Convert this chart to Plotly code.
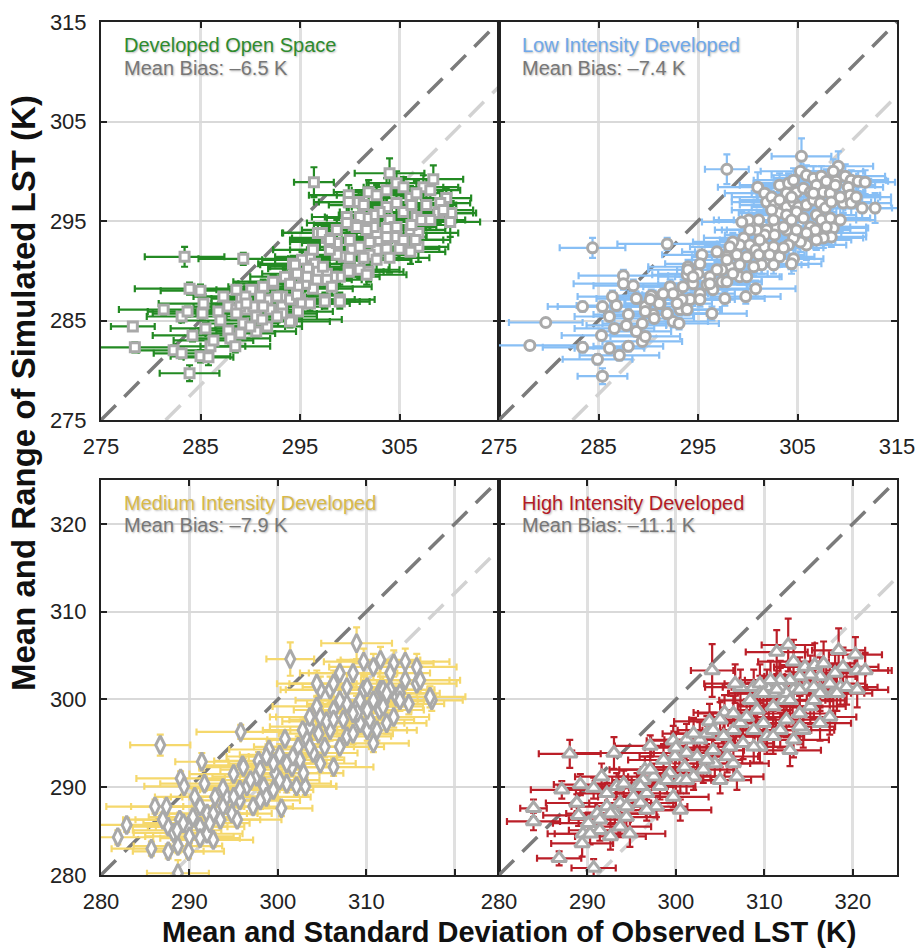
import plotly.graph_objects as go

W, H = 919, 948

# ---------------- DATA ----------------
titles = ["Developed Open Space", "Low Intensity Developed",
          "Medium Intensity Developed", "High Intensity Developed"]
mean_bias = [-6.5, -7.4, -7.9, -11.1]
bias_labels = ["Mean Bias: \u20136.5 K", "Mean Bias: \u20137.4 K",
               "Mean Bias: \u20137.9 K", "Mean Bias: \u201311.1 K"]
top_ticks = [275, 285, 295, 305, 315]
bot_ticks = [280, 290, 300, 310, 320]

# Developed Open Space: observed mean, observed sd, simulated mean, simulated half-range
dos_x = [283.4, 289.3, 283.9, 285.0, 281.3, 283.1, 283.7, 278.2, 278.4, 283.9, 282.3, 283.1, 285.0, 285.8, 284.2,
         285.3, 285.2, 285.5, 286.0, 286.3, 286.8, 287.0, 287.8, 288.0, 288.5, 287.3, 287.8, 288.6, 289.1, 289.6,
         290.1, 290.6, 291.0, 291.7, 292.0, 292.3, 293.2, 293.5, 294.2, 294.3, 295.0, 295.3, 296.0, 296.8, 297.5,
         299.0, 299.9, 300.2, 296.4, 304.0, 304.7, 308.4, 299.9, 299.9, 301.9, 302.7, 307.4, 308.1, 309.7, 310.2,
         310.1, 308.9, 306.7, 307.2, 305.4, 306.1, 304.7, 303.7, 303.0, 302.4, 301.7, 301.0, 300.4, 299.7, 300.9,
         301.4, 304.0, 304.5, 303.7, 306.1, 306.9, 306.2, 306.9, 306.1, 305.0, 303.7, 304.0, 302.7, 302.0, 301.4,
         302.0, 303.0, 303.7, 302.7, 304.7, 301.0, 301.9, 301.7, 299.9, 299.0, 298.3, 297.7, 299.4, 300.0, 298.7,
         298.0, 298.7, 298.0, 297.7, 297.2, 296.0, 295.2, 294.5, 296.5, 296.8, 295.8, 297.7, 298.2, 296.7, 296.3,
         295.5, 294.8, 292.3, 291.7, 291.3, 292.7, 293.2, 294.0, 294.7, 295.2, 296.0, 294.8, 294.0, 293.2, 291.2,
         290.3, 289.5, 289.0, 288.6, 289.3, 288.6, 289.0, 290.6, 297.5, 299.0,
         306.7, 305.4, 303.7, 306.2, 307.7, 309.1, 308.1, 309.4, 305.4, 306.6, 304.7, 302.4, 301.7, 300.7, 299.7,
         298.7, 298.0, 300.0, 301.0, 302.7, 296.3, 295.7, 297.3, 294.7, 294.0, 291.3, 291.0, 289.6, 292.7, 290.0]
dos_sx = [4.0, 4.5, 5.5, 4.0, 4.5, 3.5, 4.0, 2.2, 4.0, 3.0, 3.5, 2.8, 3.0, 2.5, 4.0,
          4.5, 5.0, 3.5, 3.5, 4.0, 3.5, 4.0, 3.0, 4.0, 3.5, 3.0, 3.5, 4.0, 3.0, 3.5,
          3.5, 3.0, 4.0, 3.5, 3.0, 3.5, 4.0, 3.5, 5.0, 3.5, 4.0, 3.5, 4.0, 3.5, 3.0,
          3.5, 4.0, 4.5, 2.0, 3.5, 3.0, 3.0, 4.0, 3.5, 3.5, 4.0, 3.5, 3.0, 2.5, 2.5,
          3.0, 3.5, 4.0, 3.5, 4.0, 3.5, 4.0, 3.5, 4.0, 3.5, 4.0, 3.5, 4.0, 3.5, 4.0,
          3.5, 4.0, 3.5, 4.0, 3.5, 4.0, 3.5, 3.0, 3.5, 4.0, 3.5, 4.0, 3.5, 4.0, 3.5,
          4.0, 3.5, 4.0, 3.5, 3.0, 4.0, 3.5, 4.0, 3.5, 4.0, 3.5, 4.0, 3.5, 4.0, 3.5,
          4.0, 3.5, 4.0, 3.5, 4.0, 3.5, 4.0, 3.5, 4.0, 3.5, 4.0, 3.5, 4.0, 3.5, 4.0,
          3.5, 4.0, 4.0, 3.5, 4.0, 3.5, 4.0, 3.5, 4.0, 3.5, 4.0, 3.5, 4.0, 3.5, 4.0,
          3.5, 4.0, 3.5, 4.0, 3.5, 4.0, 3.5, 4.0, 3.5, 3.0,
          3.5, 4.0, 3.5, 4.0, 3.0, 3.0, 3.5, 3.0, 4.0, 3.5, 4.0, 3.5, 4.0, 3.5, 4.0,
          3.5, 4.0, 3.5, 4.0, 3.5, 4.0, 3.5, 4.0, 3.5, 4.0, 3.5, 4.0, 3.5, 4.0, 3.5]
dos_y = [291.4, 291.2, 288.2, 288.0, 286.1, 285.4, 285.9, 284.4, 282.3, 279.7, 282.0, 281.7, 281.4, 281.3, 283.5,
         286.7, 285.7, 284.2, 282.4, 283.0, 285.9, 285.0, 284.0, 283.2, 282.4, 287.4, 286.4, 286.1, 287.2, 286.1,
         288.1, 285.4, 287.1, 284.4, 286.1, 288.7, 287.4, 289.4, 285.1, 290.7, 287.1, 288.7, 290.4, 293.8, 287.1,
         287.1, 290.1, 292.1, 298.9, 299.8, 298.8, 299.2, 297.6, 296.9, 297.9, 297.6, 298.4, 298.1, 297.3, 295.8,
         294.9, 295.8, 295.4, 295.1, 295.9, 297.3, 296.8, 296.4, 295.9, 295.6, 295.3, 295.4, 294.6, 295.4, 296.9,
         296.6, 295.1, 294.4, 294.3, 294.1, 293.8, 294.6, 292.4, 291.9, 292.2, 292.2, 291.3, 292.1, 291.6, 291.3,
         292.9, 293.1, 293.4, 293.8, 293.4, 290.1, 289.9, 289.6, 289.9, 289.4, 289.4, 289.7, 291.4, 291.3, 291.6,
         292.1, 292.8, 292.9, 293.3, 293.8, 291.4, 291.1, 290.6, 290.7, 289.9, 290.2, 289.1, 288.4, 289.1, 288.2,
         288.7, 288.4, 288.9, 287.1, 286.4, 287.4, 286.4, 287.1, 287.6, 286.7, 286.7, 285.9, 284.9, 285.7, 285.1,
         286.4, 287.4, 286.4, 288.1, 284.7, 285.7, 283.7, 283.9, 286.9, 286.9,
         297.8, 298.4, 298.1, 296.6, 296.6, 296.8, 295.1, 296.1, 293.1, 293.1, 294.4, 294.4, 294.1, 294.4, 294.8,
         294.1, 293.1, 293.1, 292.4, 291.1, 292.1, 289.4, 290.4, 289.7, 288.7, 288.4, 287.4, 286.7, 285.4, 284.4]
dos_ry = [1.0, 0.6, 0.6, 0.6, 0.5, 0.6, 0.5, 0.4, 0.5, 0.8, 0.5, 0.5, 0.6, 0.8, 0.6,
          0.6, 0.5, 0.6, 0.6, 0.5, 0.6, 0.5, 0.6, 0.5, 0.6, 0.6, 0.7, 0.6, 0.7, 0.6,
          0.7, 0.6, 0.7, 0.6, 0.7, 0.8, 0.7, 0.8, 0.6, 0.8, 0.7, 0.8, 0.9, 1.0, 0.7,
          0.7, 0.9, 1.0, 1.5, 1.5, 1.2, 1.4, 1.0, 1.0, 1.2, 1.0, 1.2, 1.0, 1.0, 1.2,
          1.5, 1.0, 1.0, 1.2, 1.0, 1.2, 1.0, 1.1, 1.0, 0.9, 1.0, 1.0, 0.9, 1.0, 1.0,
          1.1, 1.0, 1.2, 1.0, 1.5, 1.2, 1.0, 1.5, 1.2, 1.0, 1.0, 1.5, 0.9, 1.0, 1.0,
          1.0, 1.0, 1.1, 1.0, 1.0, 0.9, 1.0, 1.0, 0.9, 0.8, 0.8, 0.9, 0.9, 1.0, 0.9,
          0.9, 1.0, 1.0, 1.0, 1.0, 0.8, 0.8, 0.8, 0.9, 0.8, 0.8, 0.8, 0.9, 0.8, 0.8,
          0.7, 0.8, 0.7, 0.7, 0.6, 0.7, 0.7, 0.7, 0.7, 0.8, 0.7, 0.6, 0.6, 0.6, 0.6,
          0.6, 0.7, 0.6, 0.7, 0.6, 0.6, 0.6, 0.6, 0.7, 0.7,
          1.2, 1.0, 1.2, 1.0, 1.0, 1.2, 1.0, 1.0, 1.5, 1.2, 1.0, 1.0, 1.0, 1.0, 1.0,
          1.0, 1.0, 1.0, 0.9, 1.2, 0.9, 0.8, 0.8, 0.8, 0.7, 0.7, 0.7, 0.6, 0.6, 0.6]

# Low Intensity Developed
lid_x = [297.9, 305.4, 309.1, 308.6, 301.0, 291.9, 305.3, 305.9, 306.6, 307.4, 307.9, 308.9, 309.8, 310.4, 311.1,
         311.8, 303.2, 304.1, 304.6, 303.9, 304.9, 305.6, 306.3, 306.9, 307.6, 308.3, 308.8, 310.1, 310.3, 301.7,
         301.9, 302.4, 302.7, 303.2, 303.9, 304.6, 305.1, 305.9, 306.6, 307.3, 307.8, 308.4, 309.6, 310.4, 311.5,
         312.8, 303.1, 303.9, 304.9, 305.6, 306.9, 307.4, 308.3, 308.6, 307.9, 308.4, 307.6, 306.9, 305.9, 305.3,
         304.6, 304.1, 303.9, 302.9, 301.9, 302.7, 301.7, 300.9, 301.1, 300.1, 299.4, 300.2, 299.6, 300.2, 300.8,
         299.2, 298.5, 298.2, 298.9, 299.9, 301.1, 301.7, 302.6, 303.2, 304.6, 304.4, 302.6, 301.4, 300.6, 299.2,
         298.2, 297.4, 296.9, 295.4, 295.2, 294.0, 293.9, 295.0, 296.2, 295.9, 296.5, 297.4, 297.9, 299.2, 299.9,
         300.8, 299.8, 297.7, 296.4, 292.2, 292.9, 293.2, 291.2, 290.5, 289.7, 290.5, 292.5, 294.2, 295.2, 284.4,
         287.5, 287.5, 288.5, 286.4, 288.8, 290.3, 283.4, 285.4, 286.8, 286.1, 286.6, 288.0, 287.8, 288.8, 289.4,
         289.7, 290.6, 291.1, 291.9, 279.7, 278.1, 283.4, 284.9, 285.4, 286.1, 287.1, 288.0, 289.4, 289.7, 285.3,
         292.5, 293.4, 293.9, 293.1, 294.5, 294.0, 295.2, 296.2, 298.5, 298.2, 297.9,
         302.4, 304.4, 306.3, 306.8, 307.9, 309.3, 309.3, 310.9, 306.6, 304.4, 302.6, 303.6, 304.9, 305.9, 301.2,
         302.2, 303.6, 297.9, 296.9, 294.5, 293.5, 291.5, 290.2, 292.9, 291.9]
lid_sx = [2.2, 3.0, 3.5, 3.0, 4.0, 5.0, 4.0, 3.5, 4.0, 3.5, 4.0, 3.5, 4.0, 3.5, 3.0,
          3.0, 4.0, 3.5, 4.0, 3.5, 4.0, 3.5, 4.0, 3.5, 4.0, 3.5, 4.0, 3.5, 3.0, 4.0,
          3.5, 4.0, 3.5, 4.0, 3.5, 4.0, 3.5, 4.0, 3.5, 4.0, 3.5, 4.0, 3.5, 4.0, 3.0,
          3.0, 4.0, 3.5, 4.0, 3.5, 4.0, 3.5, 4.0, 3.5, 4.0, 3.5, 4.0, 3.5, 4.0, 3.5,
          4.0, 3.5, 4.0, 3.5, 4.0, 3.5, 4.0, 3.5, 4.0, 3.5, 4.0, 3.5, 4.0, 3.5, 4.0,
          3.5, 4.0, 3.5, 4.0, 3.5, 4.0, 3.5, 4.0, 3.5, 3.0, 3.0, 3.5, 4.0, 3.5, 4.0,
          3.5, 4.0, 3.5, 4.0, 3.5, 4.0, 3.5, 4.0, 3.5, 4.0, 3.5, 4.0, 3.5, 4.0, 3.5,
          4.0, 3.5, 4.0, 3.5, 4.0, 3.5, 4.0, 3.5, 4.0, 3.5, 4.0, 3.5, 4.0, 3.5, 3.3,
          4.5, 5.0, 4.0, 3.5, 4.0, 3.5, 3.5, 4.5, 4.0, 3.5, 4.0, 3.5, 4.0, 3.5, 4.0,
          3.5, 4.0, 3.5, 4.0, 3.7, 5.5, 4.0, 3.5, 2.5, 3.5, 4.0, 3.5, 4.0, 3.5, 4.0,
          3.5, 4.0, 3.5, 4.0, 3.5, 4.0, 3.5, 4.0, 3.5, 4.0, 3.5,
          4.0, 3.5, 4.0, 3.5, 4.0, 3.5, 4.0, 3.5, 4.0, 3.5, 4.0, 3.5, 4.0, 3.5, 4.0,
          3.5, 4.0, 3.5, 4.0, 3.5, 4.0, 3.5, 4.0, 3.5, 4.0]
lid_y = [300.2, 301.5, 300.5, 300.0, 298.4, 292.7, 300.0, 299.6, 299.3, 299.5, 299.0, 299.0, 299.5, 299.1, 299.0,
         298.9, 298.6, 298.8, 299.1, 297.8, 297.9, 298.3, 297.9, 298.6, 297.9, 297.8, 298.6, 298.4, 297.6, 297.8,
         296.9, 297.4, 296.6, 297.1, 296.4, 296.9, 296.4, 296.6, 297.1, 296.8, 296.3, 296.9, 296.8, 296.8, 296.3,
         296.3, 295.8, 295.6, 295.9, 295.3, 295.6, 295.1, 295.3, 294.3, 293.8, 293.4, 293.3, 293.1, 292.6, 292.9,
         293.3, 292.6, 294.1, 294.4, 294.1, 293.6, 293.6, 294.1, 295.1, 295.1, 294.9, 294.1, 293.3, 292.6, 292.1,
         292.6, 292.9, 291.9, 291.6, 291.4, 291.6, 292.4, 292.4, 291.4, 291.2, 290.7, 290.6, 290.6, 290.4, 290.6,
         290.4, 290.1, 291.9, 291.6, 290.7, 290.4, 289.6, 289.7, 289.4, 288.6, 288.1, 288.9, 288.9, 289.4, 289.4,
         288.2, 287.4, 287.2, 285.7, 288.4, 287.6, 286.1, 286.7, 287.4, 286.4, 285.6, 284.9, 287.1, 287.7, 292.3,
         289.5, 288.7, 288.5, 287.4, 287.2, 287.5, 286.4, 286.4, 286.5, 285.4, 284.2, 285.6, 284.5, 283.9, 284.7,
         285.9, 285.2, 286.7, 285.7, 284.8, 282.5, 282.3, 281.1, 279.4, 282.2, 281.5, 282.4, 282.9, 283.4, 283.5,
         287.7, 287.1, 286.1, 284.7, 288.7, 290.1, 287.1, 288.7, 289.7, 292.4, 291.4,
         296.1, 295.1, 294.4, 294.1, 294.4, 295.1, 297.4, 297.4, 297.8, 297.4, 295.1, 294.4, 294.1, 293.8, 293.1,
         291.6, 292.3, 291.1, 290.1, 289.4, 288.4, 287.7, 287.1, 286.7, 285.7]
lid_ry = [1.5, 1.8, 1.5, 1.2, 1.5, 0.6, 1.2, 1.0, 1.2, 1.0, 1.2, 1.0, 1.2, 1.0, 1.0,
          1.2, 1.2, 1.0, 1.2, 1.0, 1.0, 1.2, 1.0, 1.2, 1.0, 1.0, 1.2, 1.0, 1.0, 1.0,
          1.0, 1.0, 1.0, 1.0, 1.0, 1.2, 1.0, 1.0, 1.0, 1.2, 1.0, 1.0, 1.0, 1.2, 1.2,
          1.5, 1.0, 1.0, 1.0, 1.2, 1.0, 1.0, 1.0, 1.2, 1.0, 1.0, 1.0, 1.0, 1.5, 1.0,
          1.0, 1.0, 1.0, 1.0, 1.0, 1.0, 1.0, 1.0, 1.0, 1.0, 1.0, 1.0, 1.0, 0.9, 0.9,
          0.9, 0.9, 0.9, 0.8, 0.9, 0.9, 0.9, 1.0, 1.0, 1.2, 1.0, 0.9, 0.9, 0.9, 0.8,
          0.8, 0.8, 0.8, 0.8, 0.8, 0.7, 0.7, 0.7, 0.8, 0.7, 0.7, 0.7, 0.8, 0.8, 0.8,
          0.8, 0.7, 0.7, 0.7, 0.7, 0.7, 0.6, 0.6, 0.6, 0.6, 0.6, 0.6, 0.7, 0.7, 1.0,
          0.6, 0.6, 0.6, 0.6, 0.6, 0.6, 0.5, 0.5, 0.6, 0.5, 0.5, 0.6, 0.5, 0.5, 0.5,
          0.6, 0.5, 0.6, 0.6, 0.4, 0.4, 0.5, 0.5, 0.8, 0.5, 0.5, 0.5, 0.5, 0.5, 0.5,
          0.7, 0.6, 0.6, 0.6, 0.7, 0.7, 0.7, 0.7, 0.8, 0.9, 0.8,
          1.0, 1.0, 1.2, 1.0, 1.0, 1.2, 1.0, 1.0, 1.2, 1.0, 1.0, 1.0, 1.0, 1.0, 1.0,
          0.9, 1.0, 0.8, 0.8, 0.7, 0.7, 0.6, 0.6, 0.6, 0.6]

# Medium Intensity Developed
mid_x = [286.7, 295.8, 291.4, 289.0, 289.4, 291.7, 286.1, 287.4, 282.9, 281.9, 285.7, 287.6, 288.7, 289.9, 288.7,
         287.6, 288.2, 288.9, 289.8, 290.0, 290.6, 291.2, 292.0, 291.2, 291.2, 292.0, 292.7, 292.9, 293.5, 294.2,
         294.8, 295.4, 295.7, 296.5, 297.2, 297.6, 298.4, 298.7, 299.5, 300.4, 299.7, 300.2, 301.0, 301.6, 302.3,
         302.1, 303.1, 302.5, 303.3, 304.0, 303.6, 304.8, 305.3, 305.9, 306.3, 307.0, 307.4, 307.8, 308.5, 309.3,
         310.1, 310.4, 310.8, 311.2, 312.3, 313.1, 313.4, 312.7, 311.6, 310.8, 309.7, 308.9, 307.8, 307.0, 306.3,
         305.9, 304.8, 304.4, 303.6, 304.8, 314.8, 315.7, 317.4, 301.4, 308.9, 311.6, 313.1, 314.4, 315.7, 317.2,
         316.1, 314.4, 312.7, 310.8, 309.7, 308.5, 307.0, 306.3, 304.4, 307.8, 310.1, 311.9, 313.8, 293.8, 295.0,
         296.0, 297.8, 299.0, 298.0, 300.8, 302.8, 305.5, 309.0, 311.5, 312.0,
         302.9, 303.6, 304.6, 306.3, 308.5, 310.1, 311.9, 313.8, 312.3, 309.3, 301.0, 299.5, 298.0, 296.9,
         295.7, 295.0, 293.8, 292.7, 292.3, 290.4, 289.3, 288.6, 287.0, 296.1, 298.7, 301.7, 300.2]
mid_sx = [3.4, 5.0, 3.0, 5.0, 4.5, 5.0, 5.5, 4.0, 5.0, 4.0, 4.5, 4.0, 5.0, 4.0, 3.5,
          5.0, 4.5, 5.0, 4.5, 5.0, 4.5, 5.0, 4.5, 5.0, 4.5, 4.0, 4.5, 5.0, 4.5, 5.0,
          4.5, 5.0, 4.5, 5.0, 4.5, 5.0, 4.5, 5.0, 4.5, 3.5, 5.0, 4.5, 5.0, 4.5, 5.0,
          4.5, 3.5, 5.0, 4.5, 5.0, 4.5, 4.0, 5.0, 4.5, 4.5, 5.0, 4.5, 5.0, 4.5, 5.0,
          4.5, 5.0, 4.0, 4.5, 4.5, 4.0, 4.5, 5.0, 4.5, 5.0, 4.5, 5.0, 4.5, 5.0, 4.5,
          5.0, 4.5, 5.0, 4.5, 5.0, 4.0, 4.5, 3.5, 2.7, 4.0, 4.5, 4.5, 5.0, 4.5, 4.0,
          4.5, 5.0, 4.5, 5.0, 4.5, 5.0, 4.5, 5.0, 4.5, 5.0, 4.5, 5.0, 4.5, 4.5, 5.0,
          4.5, 5.0, 4.5, 4.5, 5.0, 4.5, 5.0, 4.5, 5.0, 4.5,
          4.5, 5.0, 4.5, 5.0, 4.5, 5.0, 4.5, 4.0, 4.5, 5.0, 4.5, 5.0, 4.5, 5.0,
          4.5, 5.0, 4.5, 5.0, 4.5, 5.0, 4.5, 5.0, 4.5, 5.0, 4.5, 5.0, 4.5]
mid_y = [294.8, 296.3, 292.9, 291.0, 290.1, 290.4, 287.8, 287.8, 285.7, 284.3, 283.0, 282.7, 283.3, 282.7, 280.2,
         285.5, 284.8, 286.3, 285.5, 284.4, 288.9, 287.8, 287.0, 285.5, 284.2, 284.7, 284.0, 288.9, 286.3, 288.9,
         287.0, 286.3, 288.5, 290.1, 287.8, 291.2, 290.1, 288.9, 289.7, 287.6, 291.6, 293.7, 290.4, 292.3, 294.6,
         290.1, 290.1, 293.1, 295.4, 293.9, 296.9, 292.7, 294.6, 296.5, 292.3, 294.6, 297.7, 295.8, 296.1, 297.3,
         296.5, 297.7, 295.0, 296.5, 297.3, 298.0, 300.3, 301.1, 301.1, 299.9, 301.1, 299.2, 299.5, 299.9, 298.8,
         301.1, 301.1, 299.2, 298.0, 298.0, 299.5, 301.8, 299.9, 304.6, 306.4, 304.5, 304.1, 304.3, 303.7, 300.3,
         302.2, 302.2, 303.0, 303.7, 304.3, 303.0, 303.0, 301.8, 301.8, 301.4, 301.4, 301.1, 300.7, 289.9, 291.5,
         292.5, 293.0, 294.3, 288.5, 295.5, 296.5, 297.5, 298.5, 298.8, 299.8,
         291.6, 294.6, 296.1, 297.7, 298.4, 298.8, 299.2, 299.9, 300.7, 299.9, 292.7, 292.7, 292.0, 290.8,
         289.7, 288.9, 287.8, 287.0, 285.9, 286.6, 285.9, 285.1, 286.3, 292.3, 293.5, 293.5, 290.8]
mid_ry = [1.2, 0.8, 1.0, 0.8, 0.8, 0.8, 0.8, 1.0, 0.8, 0.8, 0.8, 0.8, 0.8, 0.8, 1.5,
          0.8, 0.8, 0.8, 0.8, 0.8, 0.8, 0.8, 0.8, 0.8, 0.8, 0.8, 0.8, 0.9, 0.8, 0.9,
          0.8, 0.8, 0.9, 1.0, 0.9, 1.0, 1.0, 0.9, 1.0, 0.9, 1.0, 1.2, 1.0, 1.0, 1.2,
          1.0, 1.0, 1.0, 1.2, 1.0, 1.2, 1.0, 1.2, 1.2, 1.0, 1.2, 1.2, 1.2, 1.2, 1.2,
          1.2, 1.2, 1.0, 1.2, 1.2, 1.2, 1.2, 1.5, 1.5, 1.2, 1.5, 1.2, 1.2, 1.2, 1.2,
          1.5, 1.5, 1.2, 1.2, 1.2, 1.2, 1.5, 1.2, 1.9, 1.8, 1.5, 1.5, 1.5, 1.5, 1.2,
          1.5, 1.5, 1.5, 1.5, 1.5, 1.5, 1.5, 1.5, 1.5, 1.5, 1.5, 1.5, 1.5, 0.9, 0.9,
          1.0, 1.0, 1.0, 0.9, 1.0, 1.2, 1.2, 1.2, 1.2, 1.2,
          1.0, 1.2, 1.2, 1.2, 1.2, 1.2, 1.2, 1.2, 1.5, 1.2, 1.0, 1.0, 1.0, 0.9,
          0.9, 0.9, 0.8, 0.8, 0.8, 0.8, 0.8, 0.8, 0.8, 1.0, 1.0, 1.0, 1.0]

# High Intensity Developed
hid_x = [288.0, 293.0, 299.7, 297.1, 287.1, 289.2, 283.9, 283.9, 286.8, 290.7, 289.0, 288.8, 289.5, 289.4, 290.1,
         291.1, 290.7, 291.6, 292.2, 291.4, 292.6, 292.2, 293.3, 294.1, 293.1, 293.7, 294.8, 294.4, 295.2, 295.6,
         296.0, 296.7, 297.5, 296.3, 298.2, 297.8, 298.6, 299.3, 299.9, 300.5, 299.7, 300.5, 301.0, 302.0, 301.2,
         302.4, 302.7, 303.1, 303.5, 304.2, 304.4, 305.4, 305.0, 306.1, 306.5, 306.5, 306.9, 307.3, 307.6, 308.0,
         308.8, 309.2, 309.5, 309.9, 310.3, 311.0, 311.8, 312.2, 312.5, 313.3, 312.9, 314.0, 314.4, 315.2, 316.3,
         317.4, 317.8, 318.6, 319.3, 316.3, 314.8, 313.3, 311.8, 310.3, 308.8, 307.3, 306.7, 304.1, 311.4, 312.7,
         313.3, 314.6, 315.7, 316.7, 318.4, 320.3, 320.5, 321.4, 318.9, 318.0, 316.3, 315.2, 314.0, 312.9, 311.8,
         310.7, 309.5, 309.5, 311.0, 312.5, 314.0, 315.6, 317.4, 320.5, 318.2, 316.3, 296.5, 300.0, 303.8, 305.5,
         301.2, 302.0, 304.2, 305.0, 306.5, 308.4, 309.9, 311.4, 312.9, 315.6, 314.0, 311.0, 308.8, 305.8, 303.5,
         301.2, 299.0, 297.1, 296.0, 293.7, 292.6, 291.4, 290.3, 294.4, 296.7]
hid_sx = [3.5, 4.5, 3.0, 4.0, 3.5, 3.0, 1.5, 3.0, 2.5, 2.5, 4.0, 3.5, 4.0, 3.5, 4.0,
          3.5, 4.0, 3.0, 4.0, 3.5, 4.0, 3.5, 4.0, 3.5, 4.0, 3.5, 4.0, 3.5, 4.0, 3.5,
          4.0, 3.5, 4.0, 3.5, 4.0, 3.5, 4.0, 3.5, 4.0, 3.5, 4.0, 3.5, 4.0, 3.5, 4.0,
          3.5, 4.0, 3.5, 4.0, 3.5, 4.0, 3.5, 3.5, 4.0, 3.5, 4.0, 3.0, 4.0, 3.5, 4.0,
          3.5, 4.0, 3.5, 4.0, 3.5, 4.0, 3.5, 4.0, 3.5, 4.0, 3.5, 4.0, 3.5, 4.0, 3.5,
          3.0, 3.5, 3.0, 3.5, 4.0, 3.5, 4.0, 3.5, 4.0, 3.5, 4.0, 3.5, 2.4, 3.5, 3.0,
          4.0, 3.5, 4.0, 3.5, 3.0, 3.0, 3.5, 3.0, 4.0, 3.5, 4.0, 3.5, 4.0, 3.5, 4.0,
          3.5, 4.0, 3.5, 4.0, 3.5, 4.0, 3.5, 4.0, 3.5, 4.0, 3.5, 4.0, 3.5, 4.0, 3.5,
          4.0, 3.5, 4.0, 3.5, 4.0, 3.5, 4.0, 3.5, 4.0, 3.5, 4.0, 3.5, 4.0, 3.5, 4.0,
          3.5, 4.0, 3.5, 4.0, 3.5, 4.0, 3.5, 4.0, 3.5, 4.0]
hid_y = [293.8, 293.9, 295.3, 294.7, 289.7, 290.3, 287.6, 286.1, 281.9, 280.8, 286.8, 288.2, 284.7, 283.6, 285.9,
         287.0, 289.9, 291.2, 287.8, 285.1, 284.4, 289.3, 290.1, 290.4, 287.0, 285.5, 284.7, 286.6, 288.9, 290.1,
         288.2, 289.3, 291.2, 290.8, 290.1, 287.8, 293.1, 291.6, 293.5, 290.8, 288.9, 287.4, 292.3, 291.2, 293.9,
         293.5, 295.4, 292.0, 296.1, 294.2, 292.7, 295.8, 290.8, 294.6, 296.5, 292.7, 291.2, 297.3, 295.0, 298.0,
         296.5, 298.8, 294.6, 297.3, 295.8, 299.2, 296.5, 299.9, 297.7, 295.4, 294.2, 298.4, 296.5, 299.2, 297.3,
         298.0, 300.7, 301.4, 301.4, 301.1, 301.4, 301.1, 301.4, 301.4, 301.4, 301.4, 301.8, 303.3, 305.4, 306.2,
         304.3, 303.7, 303.9, 304.1, 305.6, 305.1, 303.3, 303.3, 303.7, 303.0, 302.6, 302.8, 302.6, 302.2, 302.2,
         302.2, 301.8, 300.7, 300.7, 300.7, 301.1, 301.4, 301.8, 301.1, 300.7, 300.7, 292.0, 294.5, 297.5, 298.5,
         295.4, 296.1, 296.5, 297.7, 298.4, 299.9, 300.7, 301.1, 299.9, 299.9, 296.9, 295.8, 294.6, 293.5, 293.1,
         290.8, 290.8, 292.0, 290.1, 288.2, 287.0, 286.3, 284.7, 287.8, 287.4]
hid_ry = [1.6, 1.8, 1.7, 1.2, 1.0, 1.2, 1.0, 1.0, 0.8, 1.0, 1.2, 1.0, 1.2, 1.5, 1.2,
          1.2, 1.2, 1.5, 1.2, 1.2, 1.5, 1.2, 1.5, 1.5, 1.2, 1.2, 1.5, 1.2, 1.5, 1.5,
          1.2, 1.5, 1.5, 1.5, 1.5, 1.2, 1.8, 1.5, 1.8, 1.5, 1.2, 1.2, 1.8, 1.5, 1.8,
          1.8, 2.0, 1.5, 2.0, 1.8, 1.5, 2.0, 1.5, 1.8, 2.0, 1.5, 1.5, 2.0, 1.8, 2.0,
          2.0, 2.0, 1.8, 2.0, 2.0, 2.0, 2.0, 2.0, 2.0, 2.0, 1.8, 2.0, 2.0, 2.0, 2.0,
          2.0, 2.0, 2.0, 2.0, 2.0, 2.2, 2.0, 2.2, 2.0, 2.0, 2.0, 2.2, 3.0, 2.5, 3.0,
          2.5, 2.5, 2.5, 2.5, 2.5, 2.0, 2.0, 2.0, 2.2, 2.2, 2.2, 2.2, 2.2, 2.2, 2.2,
          2.2, 2.2, 2.0, 2.0, 2.0, 2.0, 2.0, 2.0, 2.0, 2.0, 2.0, 1.5, 1.8, 2.0, 2.0,
          1.8, 1.8, 2.0, 2.0, 2.0, 2.0, 2.0, 2.2, 2.0, 2.0, 2.0, 2.0, 1.8, 1.8, 1.8,
          1.5, 1.5, 1.5, 1.5, 1.2, 1.2, 1.2, 1.2, 1.2, 1.2]

# ---------------- STYLE ----------------
series = [
    (dos_x, dos_sx, dos_y, dos_ry, "#238a23", "#2e8b2e", "square", 9),
    (lid_x, lid_sx, lid_y, lid_ry, "#88bff5", "#6fa8ea", "circle", 10),
    (mid_x, mid_sx, mid_y, mid_ry, "#f5d86c", "#d8b94a", "diamond-tall", 13),
    (hid_x, hid_sx, hid_y, hid_ry, "#bb1f28", "#b31b25", "triangle-up", 13),
]

def px(x):
    return x / W

def py(y):
    return 1 - y / H

xdom = [[px(101), px(499)], [px(499), px(897)], [px(101), px(499)], [px(499), px(897)]]
ydom = [[py(420), py(22)], [py(420), py(22)], [py(875), py(480)], [py(875), py(480)]]
ranges = [[275, 315], [275, 315], [280, 325], [280, 325]]

fig = go.Figure()
tickfont = dict(family="Liberation Sans, Arial, sans-serif", size=22, color="#222")

for i, (xs, sxs, ys, rys, ecol, tcol, sym, msz) in enumerate(series):
    n = "" if i == 0 else str(i + 1)
    lo, hi = ranges[i]
    # 1:1 line and bias line
    fig.add_trace(go.Scatter(x=[lo, hi], y=[lo, hi], mode="lines", xaxis="x" + n, yaxis="y" + n,
                             line=dict(color="#7b7b7b", width=3.5, dash="21px,12px"),
                             hoverinfo="skip", showlegend=False))
    b = mean_bias[i]
    fig.add_trace(go.Scatter(x=[lo - b, hi], y=[lo, hi + b], mode="lines", xaxis="x" + n, yaxis="y" + n,
                             line=dict(color="#d2d2d2", width=3.5, dash="21px,12px"),
                             hoverinfo="skip", showlegend=False))
    fig.add_trace(go.Scatter(
        x=xs, y=ys, mode="markers", xaxis="x" + n, yaxis="y" + n, showlegend=False,
        marker=dict(symbol=sym, size=msz, color="white", line=dict(color="#a9a9a9", width=3)),
        error_x=dict(type="data", array=sxs, color=ecol, thickness=2.2, width=3.5),
        error_y=dict(type="data", array=rys, color=ecol, thickness=2.2, width=3.5),
    ))
    ticks = top_ticks if i < 2 else bot_ticks
    if i in (0, 2):
        xt = [str(t) for t in ticks[:-1]] + [""]
    else:
        xt = [str(t) for t in ticks]
    common = dict(showline=True, linecolor="#222", linewidth=2, mirror="ticks",
                  ticks="inside", ticklen=6, tickwidth=2, tickcolor="#222", automargin=False,
                  zeroline=False, tickfont=tickfont, fixedrange=True)
    fig.layout["xaxis" + n] = dict(domain=xdom[i], range=ranges[i], anchor="y" + n,
                                   tickvals=ticks, ticktext=xt, showgrid=True,
                                   gridcolor="#e0e0e0", gridwidth=3, ticklabelstandoff=6, **common)
    fig.layout["yaxis" + n] = dict(domain=ydom[i], range=ranges[i], anchor="x" + n,
                                   tickvals=ticks, showticklabels=(i in (0, 2)), showgrid=True,
                                   gridcolor="#d9d9d9", gridwidth=1.5, ticklabelstandoff=8, **common)
    fig.add_annotation(text=titles[i], xref="x" + n + " domain", yref="y" + n + " domain",
                       x=0.054, y=0.943, xanchor="left", yanchor="middle", showarrow=False,
                       font=dict(family="Liberation Sans, Arial, sans-serif", size=20, color=tcol,
                                 shadow="1px 1px 2px #bbb"))
    fig.add_annotation(text=bias_labels[i], xref="x" + n + " domain", yref="y" + n + " domain",
                       x=0.054, y=0.885, xanchor="left", yanchor="middle", showarrow=False,
                       font=dict(family="Liberation Sans, Arial, sans-serif", size=20, color="#777",
                                 shadow="1px 1px 2px #bbb"))

fig.add_annotation(text="Mean and Standard Deviation of Observed LST (K)", xref="paper", yref="paper",
                   x=px(509), y=py(932), xanchor="center", yanchor="middle", showarrow=False,
                   font=dict(family="Liberation Sans, Arial, sans-serif", size=29, color="#111",
                             weight="bold"))
fig.add_annotation(text="Mean and Range of Simulated LST (K)", xref="paper", yref="paper",
                   x=px(23), y=py(393), xanchor="center", yanchor="middle", showarrow=False,
                   textangle=-90,
                   font=dict(family="Liberation Sans, Arial, sans-serif", size=33, color="#111",
                             weight="bold"))

fig.update_layout(width=W, height=H, margin=dict(l=0, r=0, t=0, b=0, autoexpand=False),
                  paper_bgcolor="white", plot_bgcolor="white", showlegend=False)
fig.write_html("out.html")
